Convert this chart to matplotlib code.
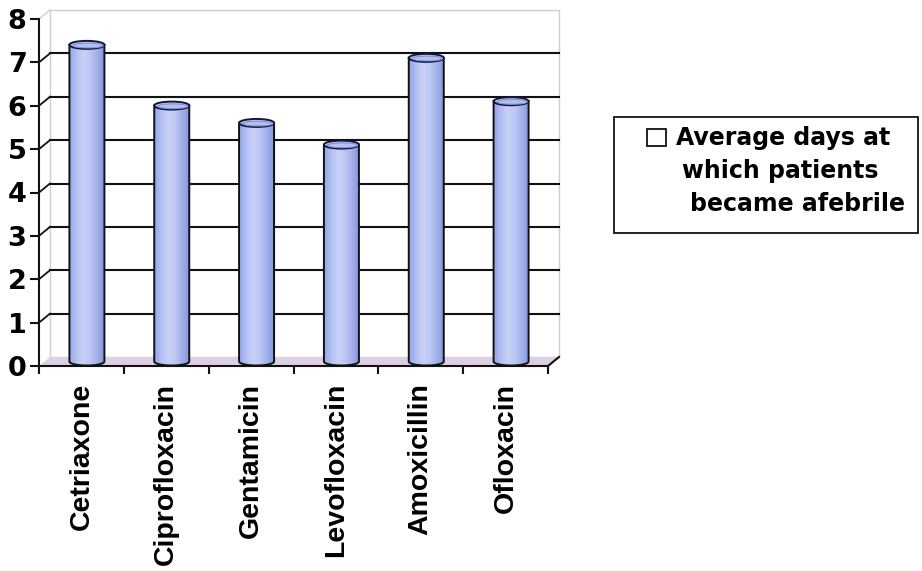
import numpy as np
import matplotlib
matplotlib.use('Agg')
import matplotlib.pyplot as plt
from matplotlib.patches import Ellipse, Polygon, Rectangle
from matplotlib.colors import LinearSegmentedColormap

drugs = ['Cetriaxone', 'Ciprofloxacin', 'Gentamicin', 'Levofloxacin', 'Amoxicillin', 'Ofloxacin']
avg_days = [7.3, 5.9, 5.5, 5.0, 7.0, 6.0]
y_ticks = [0, 1, 2, 3, 4, 5, 6, 7, 8]
legend_lines = ['Average days at', 'which patients', 'became afebrile']

W, H = 922, 571
# front plane of the plot in pixels
PX_LEFT, PX_RIGHT, PX_ZERO, PX_TOP = 39, 548, 366, 19
n = len(drugs)
px_per_x = (PX_RIGHT - PX_LEFT) / n
px_per_y = (PX_ZERO - PX_TOP) / 8
# depth offset of the back wall (right 11 px, up 9 px) in data units
DX = 11 / px_per_x
DY = 9 / px_per_y

BAR_W = 35 / px_per_x
ELL_H = 8 / px_per_y

GRID = '#111111'
WALL = '#cfcfcf'
FLOOR = '#dcd0e2'
cyl_cmap = LinearSegmentedColormap.from_list(
    'cyl', ['#95a5e6', '#b2bff2', '#c8d1f8', '#bcc7f4', '#a4b2ec', '#8797dc'])

fig = plt.figure(figsize=(W / 100, H / 100), dpi=100)
ax = fig.add_axes([PX_LEFT / W, (H - PX_ZERO) / H,
                   (PX_RIGHT - PX_LEFT) / W, (PX_ZERO - PX_TOP) / H])
ax.patch.set_visible(False)

x0, x1 = -0.5, n - 0.5

# back wall and floor
ax.add_patch(Rectangle((x0 + DX, DY), n, 8, facecolor='white', edgecolor=WALL,
                       lw=1, zorder=0, clip_on=False))
ax.add_patch(Polygon([(x0, 0), (x1, 0), (x1 + DX, DY), (x0 + DX, DY)],
                     closed=True, facecolor=FLOOR, edgecolor='none', zorder=1, clip_on=False))
ax.plot([x0, x0 + DX], [8, 8 + DY], color=WALL, lw=1, zorder=1, clip_on=False)

# gridlines on back wall + connectors on side wall
for y in y_ticks[1:-1]:
    ax.plot([x0 + DX, x1 + DX], [y + DY, y + DY], color=GRID, lw=1.5, zorder=1, clip_on=False)
    ax.plot([x0, x0 + DX], [y, y + DY], color=GRID, lw=1.3, zorder=1, clip_on=False)
ax.plot([x1, x1 + DX], [0, DY], color=GRID, lw=1.5, zorder=2, clip_on=False)

# cylinders
grad = np.linspace(0, 1, 64)[np.newaxis, :]
for i, v in enumerate(avg_days):
    c = i + DX / 2
    base = DY / 2
    top = v + DY / 2
    th = np.linspace(np.pi, 2 * np.pi, 40)
    arc = np.column_stack([c + BAR_W / 2 * np.cos(th), base + ELL_H / 2 * np.sin(th)])
    pts = np.vstack([[c - BAR_W / 2, top], arc, [c + BAR_W / 2, top]])
    body = Polygon(pts, closed=True, facecolor='none', edgecolor='#111111', lw=1.4, zorder=4)
    ax.add_patch(body)
    im = ax.imshow(grad, cmap=cyl_cmap, aspect='auto', zorder=3,
                   extent=[c - BAR_W / 2, c + BAR_W / 2, base - ELL_H / 2, top])
    im.set_clip_path(body)
    ax.add_patch(Ellipse((c, top), BAR_W, ELL_H, facecolor='#c4cdf4',
                         edgecolor='#15153a', lw=1.4, zorder=5))
    ax.add_patch(Ellipse((c + BAR_W * 0.03, top - ELL_H * 0.08), BAR_W * 0.86, ELL_H * 0.6,
                         facecolor='#b4c0f0', edgecolor='#8090d2', lw=0.8, zorder=5))

ax.set_xlim(x0, x1)
ax.set_ylim(0, 8)

for s in ['top', 'right']:
    ax.spines[s].set_visible(False)
for s in ['left', 'bottom']:
    ax.spines[s].set_linewidth(1.5)
    ax.spines[s].set_color('#111111')
    ax.spines[s].set_zorder(6)

ax.set_yticks(y_ticks)
ax.set_yticklabels([str(t) for t in y_ticks], fontsize=19.5, fontweight='bold',
                   family=['DejaVu Sans'])
ax.tick_params(axis='y', direction='out', length=6.5, width=1.5, pad=2.5, color='#111111')

ax.set_xticks(range(n))
ax.set_xticklabels(drugs, rotation=90, fontsize=20.5, fontweight='bold',
                   family=['Liberation Sans', 'DejaVu Sans'])
ax.set_xticks(np.arange(n + 1) - 0.5, minor=True)
ax.tick_params(axis='x', which='major', length=0, pad=12)
ax.tick_params(axis='x', which='minor', direction='out', length=6, width=1.5, color='#111111')

# legend box
def fx(px):
    return px / W

def fy(py):
    return 1 - py / H

fig.patches.append(Rectangle((fx(614), fy(233)), fx(918) - fx(614), fy(117) - fy(233),
                             transform=fig.transFigure, facecolor='white',
                             edgecolor='#111111', lw=1.3))
fig.patches.append(Rectangle((fx(647), fy(146)), fx(666) - fx(647), fy(129) - fy(146),
                             transform=fig.transFigure, facecolor='white',
                             edgecolor='#111111', lw=1.3))
for line, lx, ly in zip(legend_lines, [676, 682, 690], [145, 178, 211]):
    fig.text(fx(lx), fy(ly), line, fontsize=17, fontweight='bold',
             family=['DejaVu Sans'], ha='left', va='baseline')

fig.savefig('out.png', dpi=100)
